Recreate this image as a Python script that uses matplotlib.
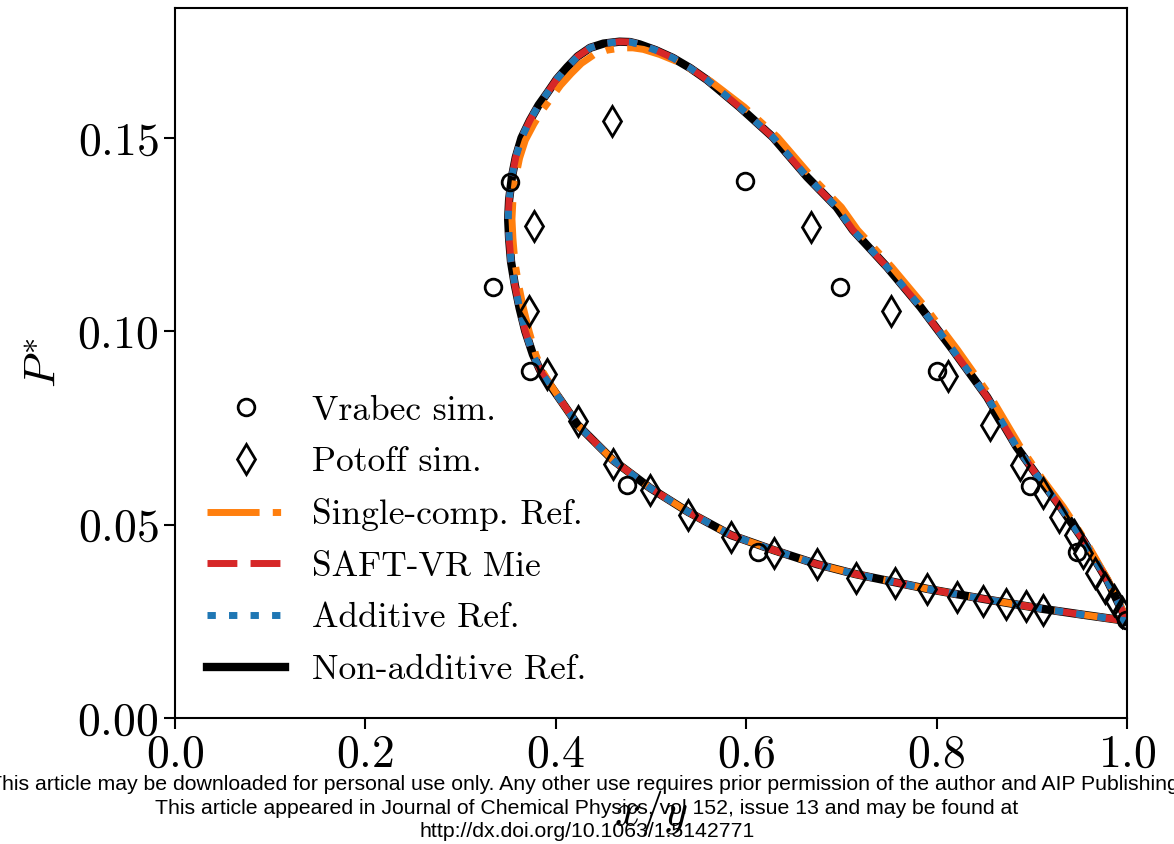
import matplotlib
matplotlib.use("Agg")
import matplotlib.pyplot as plt

plt.rcParams['font.family'] = 'serif'
plt.rcParams['font.serif'] = ['cmr10']
plt.rcParams['mathtext.fontset'] = 'cm'
plt.rcParams['axes.formatter.use_mathtext'] = True
plt.rcParams['axes.unicode_minus'] = False

# simulation data (Vrabec)
vrabec_x = [0.334, 0.352, 0.373, 0.475, 0.612, 0.599, 0.699, 0.800, 0.898, 0.947, 0.999]
vrabec_p = [0.1115, 0.1386, 0.0897, 0.0603, 0.0429, 0.1389, 0.1115, 0.0897, 0.0600, 0.0429, 0.0253]

# simulation data (Potoff): liquid branch then vapour branch
potoff_x = [0.459, 0.377, 0.372, 0.391, 0.423, 0.460, 0.499, 0.539, 0.584, 0.629,
            0.674, 0.715, 0.756, 0.790, 0.821, 0.849, 0.873, 0.894, 0.912,
            0.668, 0.752, 0.812, 0.856, 0.888, 0.912, 0.929, 0.944, 0.954,
            0.966, 0.977, 0.986, 0.995]
potoff_p = [0.1544, 0.1272, 0.1052, 0.0890, 0.0768, 0.0657, 0.0590, 0.0525, 0.0468, 0.0427,
            0.0398, 0.0362, 0.0349, 0.0334, 0.0313, 0.0303, 0.0295, 0.0290, 0.0279,
            0.1270, 0.1052, 0.0884, 0.0758, 0.0654, 0.0582, 0.0520, 0.0473, 0.0427,
            0.0375, 0.0336, 0.0305, 0.0274]

# non-additive reference (SAFT-VR Mie and additive ref. lie on top of it)
nonadd_x = [1.000, 0.951, 0.912, 0.849, 0.790, 0.715, 0.674, 0.629, 0.584, 0.539,
            0.499, 0.460, 0.423, 0.407, 0.392, 0.384, 0.376, 0.368, 0.362, 0.357,
            0.353, 0.351, 0.350, 0.351, 0.354, 0.358, 0.364, 0.373, 0.382, 0.391,
            0.401, 0.412, 0.423, 0.436, 0.450, 0.467, 0.478, 0.488, 0.505, 0.523,
            0.541, 0.559, 0.593, 0.628, 0.664, 0.695, 0.712, 0.748, 0.783, 0.817,
            0.853, 0.884, 0.909, 0.930, 0.954, 0.979, 1.000]
nonadd_p = [0.0251, 0.0268, 0.0282, 0.0308, 0.0334, 0.0372, 0.0398, 0.0434, 0.0473, 0.0533,
            0.0595, 0.0667, 0.0758, 0.0815, 0.0868, 0.0897, 0.0940, 0.1000, 0.1060, 0.1120,
            0.1180, 0.1240, 0.1290, 0.1340, 0.1400, 0.1450, 0.1500, 0.1546, 0.1585, 0.1616,
            0.1652, 0.1683, 0.1711, 0.1733, 0.1744, 0.1749, 0.1748, 0.1742, 0.1727, 0.1707,
            0.1681, 0.1650, 0.1580, 0.1502, 0.1399, 0.1321, 0.1262, 0.1166, 0.1063, 0.0952,
            0.0830, 0.0701, 0.0615, 0.0546, 0.0460, 0.0357, 0.0251]
saft_x, saft_p = nonadd_x, nonadd_p
add_x, add_p = nonadd_x, nonadd_p

# single-component reference
single_x = [1.000, 0.951, 0.912, 0.849, 0.790, 0.715, 0.674, 0.629, 0.584, 0.539,
            0.499, 0.460, 0.423, 0.407, 0.393, 0.386, 0.379, 0.372, 0.366, 0.361,
            0.357, 0.355, 0.354, 0.355, 0.358, 0.362, 0.368, 0.377, 0.386, 0.395,
            0.405, 0.416, 0.427, 0.440, 0.454, 0.470, 0.481, 0.492, 0.509, 0.527,
            0.545, 0.563, 0.598, 0.633, 0.669, 0.700, 0.717, 0.753, 0.788, 0.822,
            0.857, 0.888, 0.912, 0.933, 0.956, 0.980, 1.000]
single_p = [0.0251, 0.0268, 0.0282, 0.0308, 0.0334, 0.0372, 0.0398, 0.0434, 0.0473, 0.0533,
            0.0595, 0.0667, 0.0758, 0.0815, 0.0868, 0.0897, 0.0940, 0.1000, 0.1060, 0.1120,
            0.1180, 0.1240, 0.1290, 0.1340, 0.1400, 0.1448, 0.1494, 0.1536, 0.1572, 0.1602,
            0.1636, 0.1666, 0.1693, 0.1715, 0.1727, 0.1733, 0.1733, 0.1729, 0.1716, 0.1698,
            0.1674, 0.1646, 0.1580, 0.1502, 0.1399, 0.1321, 0.1262, 0.1166, 0.1063, 0.0952,
            0.0830, 0.0701, 0.0615, 0.0546, 0.0460, 0.0357, 0.0255]

fig = plt.figure(figsize=(11.74, 8.44), dpi=100)
ax = fig.add_axes([0.149, 0.1493, 0.811, 0.8412])

l_na, = ax.plot(nonadd_x, nonadd_p, color='black', lw=6, label='Non-additive Ref.')
l_sc, = ax.plot(single_x, single_p, color='#ff7f0e', lw=5,
                linestyle=(0, (7.5, 1.9, 1.2, 1.9)), label='Single-comp. Ref.')
l_sa, = ax.plot(saft_x, saft_p, color='#d62728', lw=5,
                linestyle=(0, (4.3, 1.9)), label='SAFT-VR Mie')
l_ad, = ax.plot(add_x, add_p, color='#1f77b4', lw=5,
                linestyle=(0, (1.2, 1.9)), label='Additive Ref.')
m_v, = ax.plot(vrabec_x, vrabec_p, 'o', ms=12, mfc='none', mec='black', mew=2,
               label='Vrabec sim.')
m_p, = ax.plot(potoff_x, potoff_p, 'd', ms=15, mfc='none', mec='black', mew=2,
               label='Potoff sim.')

ax.set_xlim(0, 1)
ax.set_ylim(0, 0.1836)
ax.set_xticks([0.0, 0.2, 0.4, 0.6, 0.8, 1.0])
ax.set_yticks([0.0, 0.05, 0.10, 0.15])
ax.tick_params(direction='out', length=8, width=1.5, labelsize=33,
               top=False, right=False)
for s in ax.spines.values():
    s.set_linewidth(1.5)
ax.set_xlabel('$x/y$', fontsize=33, labelpad=9)
ax.set_ylabel('$P^{*}$', fontsize=33, labelpad=8)

ax.legend(handles=[m_v, m_p, l_sc, l_sa, l_ad, l_na], loc='lower left',
          bbox_to_anchor=(0.0, 0.0), frameon=False, fontsize=25.5,
          handlelength=2.2, labelspacing=0.56, handletextpad=0.76)

note = ("This article may be downloaded for personal use only. Any other use requires prior "
        "permission of the author and AIP Publishing.\n"
        "This article appeared in Journal of Chemical Physics, vol 152, issue 13 and may be found at\n"
        "http://dx.doi.org/10.1063/1.5142771")
fig.text(0.5, 0.003, note, ha='center', va='bottom', fontsize=15.3,
         family='Liberation Sans', linespacing=1.31)

fig.savefig('out.png', dpi=100)
